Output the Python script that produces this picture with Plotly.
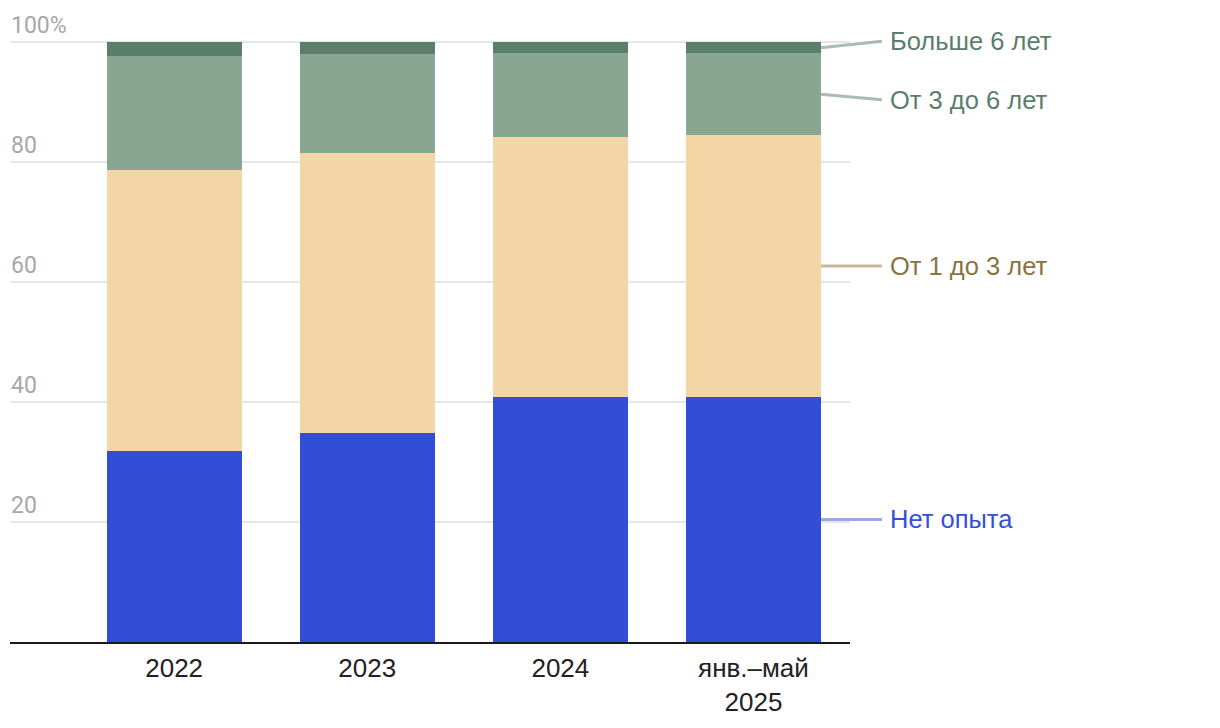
import plotly.graph_objects as go

categories = ["2022", "2023", "2024", "янв.–май<br>2025"]
series_names = ["Нет опыта", "От 1 до 3 лет", "От 3 до 6 лет", "Больше 6 лет"]
no_exp = [31.8, 34.8, 40.9, 40.9]
y1_3 = [46.9, 46.7, 43.4, 43.6]
y3_6 = [19.0, 16.5, 14.0, 13.7]
y6_plus = [2.3, 2.0, 1.7, 1.8]
y_ticks = [20, 40, 60, 80, 100]
y_tick_labels = ["20", "40", "60", "80", "100%"]

values = [no_exp, y1_3, y3_6, y6_plus]
bar_colors = ["#334ed6", "#f2d6a6", "#89a692", "#5b7e6b"]
label_colors = ["#3350d8", "#8b7341", "#5b7e6b", "#5b7e6b"]
line_colors = ["#9aa7ea", "#c8b89c", "#a9bcb0", "#a9bcb0"]

x_idx = list(range(len(categories)))
X_RANGE = [-0.85, 3.5]
Y_RANGE = [0, 100.4]

fig = go.Figure()
for name, vals, col in zip(series_names, values, bar_colors):
    fig.add_trace(go.Bar(x=x_idx, y=vals, name=name, marker=dict(color=col, line=dict(width=0)),
                         width=0.70, showlegend=False))

shapes = []
annotations = []
last = len(categories) - 1
base = 0.0
bar_right_paper = (last + 0.35 - X_RANGE[0]) / (X_RANGE[1] - X_RANGE[0])
n = len(series_names)
for i, (name, vals) in enumerate(zip(series_names, values)):
    mid = base + vals[last] / 2
    base += vals[last]
    if i == n - 1:
        label_y, shift = 100.2, 0
    elif i == n - 2:
        label_y, shift = mid - 0.9, 0
    else:
        label_y, shift = mid, 0
    shapes.append(dict(type="line", xref="paper", yref="y", x0=bar_right_paper, x1=1.038,
                       y0=mid, y1=label_y, line=dict(color=line_colors[i], width=3), layer="above"))
    annotations.append(dict(xref="paper", yref="y", x=1.045, y=label_y, text=name, showarrow=False,
                            xanchor="left", yanchor="middle", yshift=shift,
                            font=dict(family="Liberation Sans, Arial", size=25.5, color=label_colors[i])))

for v, t in zip(y_ticks, y_tick_labels):
    annotations.append(dict(xref="paper", yref="y", x=0, y=v, text=t, showarrow=False,
                            xanchor="left", yanchor="bottom", yshift=1.5, xshift=-1,
                            font=dict(family="Roboto", size=23, color="#a8a8a8")))

fig.update_layout(
    barmode="stack",
    width=1220, height=728,
    margin=dict(l=2, r=378, t=32, b=94, pad=0),
    plot_bgcolor="white", paper_bgcolor="white",
    shapes=shapes, annotations=annotations,
    xaxis=dict(range=X_RANGE, tickvals=x_idx, ticktext=categories, showgrid=False,
               showline=True, linecolor="#1a1a1a", linewidth=2, ticks="",
               ticklabelstandoff=2,
               tickfont=dict(family="Liberation Sans, Arial", size=26, color="#222222"),
               fixedrange=True),
    yaxis=dict(range=Y_RANGE, tickvals=y_ticks, showticklabels=False, showgrid=True,
               gridcolor="#e6e6e6", gridwidth=2, zeroline=False, fixedrange=True),
)

fig.write_html("out.html")
